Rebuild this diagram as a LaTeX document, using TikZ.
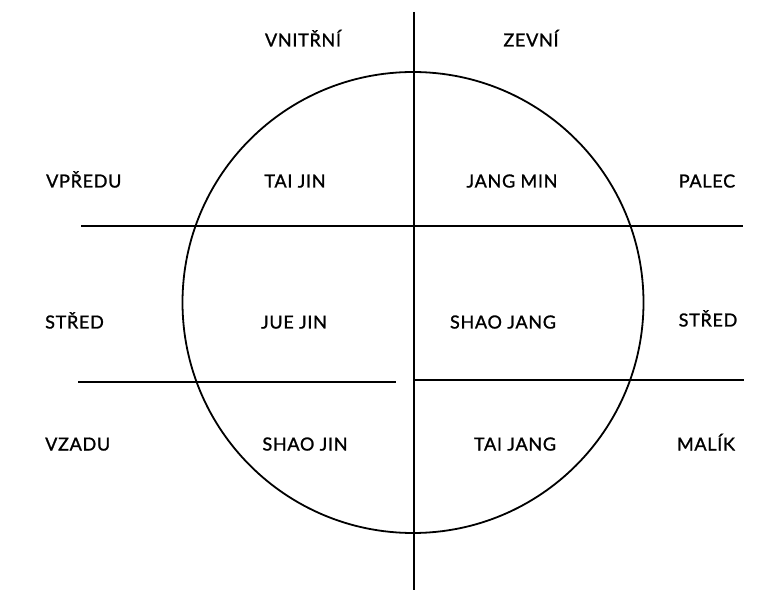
\documentclass[tikz,border=0pt]{standalone}
\usepackage{fontspec}
\setmainfont{Lato}
\newfontfamily\lblfont{Lato}[FakeBold=1.2, LetterSpace=4]
\begin{document}
\begin{tikzpicture}[x=1pt,y=-1pt,
  lbl/.style={font=\lblfont\fontsize{18}{21}\selectfont, inner sep=0pt, anchor=base},
  lblw/.style={lbl, anchor=base west},
  ln/.style={line width=1.8pt, line cap=butt}]
\useasboundingbox[fill=white] (0,0) rectangle (760,601);
% geometry
\coordinate (c) at (413,302.5);
\coordinate (vt) at (414,12);
\coordinate (vb) at (414,590);
\coordinate (h1l) at (81,226);
\coordinate (h1r) at (743,226);
\coordinate (h2l) at (78,382);
\coordinate (h2m) at (396,382);
\coordinate (h3m) at (414,380);
\coordinate (h3r) at (744,380);
\draw[ln] (c) circle[radius=230.5];
\draw[ln] (vt) -- (vb);
\draw[ln] (h1l) -- (h1r);
\draw[ln] (h2l) -- (h2m);
\draw[ln] (h3m) -- (h3r);
% labels
\node[lbl] (vnitrni) at (303,46.5) {VNITŘNÍ};
\node[lbl] (zevni) at (531,46.5) {ZEVNÍ};
\node[lblw] (vpredu) at (46,187.5) {VPŘEDU};
\node[lbl] (taijin) at (295,187.5) {TAI JIN};
\node[lbl] (jangmin) at (512,187.5) {JANG MIN};
\node[lbl] (palec) at (707,187.5) {PALEC};
\node[lblw] (stredl) at (45,328.5) {STŘED};
\node[lbl] (juejin) at (294,328.5) {JUE JIN};
\node[lbl] (shaojang) at (503,328.5) {SHAO JANG};
\node[lbl] (stredr) at (708,326.5) {STŘED};
\node[lblw] (vzadu) at (45,450.5) {VZADU};
\node[lbl] (shaojin) at (305,450.5) {SHAO JIN};
\node[lbl] (taijang) at (515,450.5) {TAI JANG};
\node[lbl] (malik) at (706,450.5) {MALÍK};
\end{tikzpicture}
\end{document}
